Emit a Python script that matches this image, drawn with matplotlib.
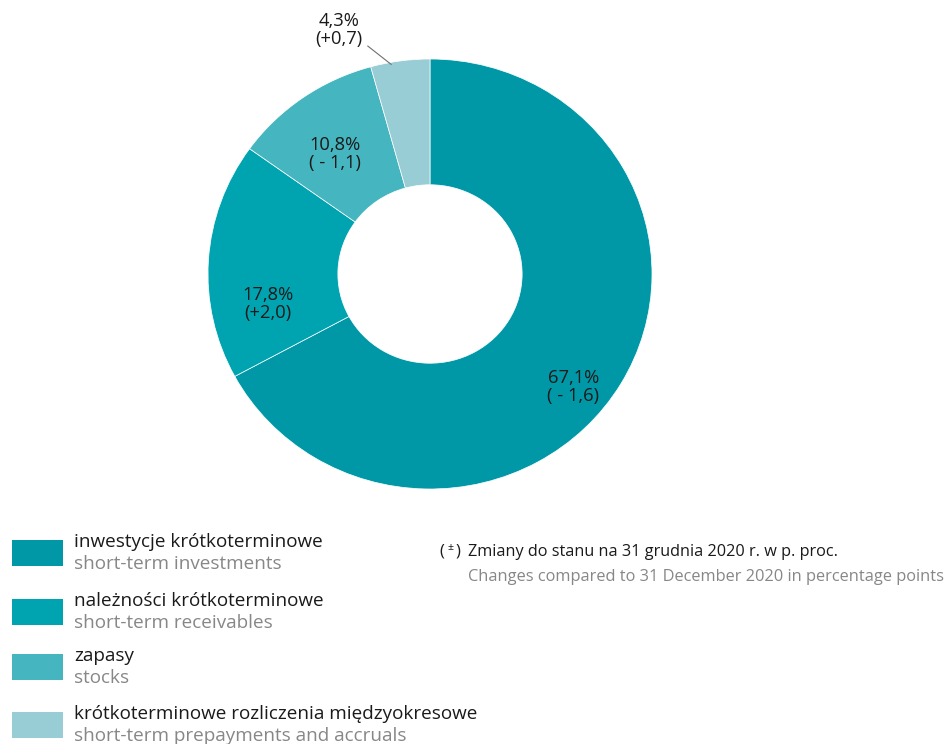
import matplotlib.pyplot as plt
from matplotlib.patches import Rectangle

plt.rcParams['font.family'] = ['Open Sans', 'DejaVu Sans']

# data
names_pl = ['inwestycje krótkoterminowe', 'należności krótkoterminowe', 'zapasy',
            'krótkoterminowe rozliczenia międzyokresowe']
names_en = ['short-term investments', 'short-term receivables', 'stocks',
            'short-term prepayments and accruals']
shares = [67.1, 17.8, 10.8, 4.3]
changes = ['( - 1,6)', '(+2,0)', '( - 1,1)', '(+0,7)']
colors = ['#0098a7', '#00a4b1', '#45b5bf', '#99cdd5']

# label placement (data coords of the pie axes, radius = 1)
label_pos = [(0.645, -0.525), (-0.73, -0.14), (-0.43, 0.56), (-0.41, 1.135)]

W, H = 949, 744
fig = plt.figure(figsize=(W / 100, H / 100), dpi=100)

# pie axes: center (430, 274) px, slightly wider than tall like the original
cx, cy, Rx, Ry = 430, 274, 222, 215
ax = fig.add_axes([(cx - Rx) / W, 1 - (cy + Ry) / H, 2 * Rx / W, 2 * Ry / H])
wedges, _ = ax.pie(shares, colors=colors, startangle=90, counterclock=False,
                   radius=1, wedgeprops=dict(width=0.585, edgecolor='white', linewidth=0.5))
ax.set_xlim(-1, 1)
ax.set_ylim(-1, 1)
ax.set_aspect('auto')
ax.axis('off')

for i, (x, y) in enumerate(label_pos):
    ax.text(x, y, f'{shares[i]:.1f}%'.replace('.', ',') + '\n' + changes[i],
            ha='center', va='center', fontsize=13.2, color='#1a1a1a',
            linespacing=1.0, clip_on=False)

# leader line for the small slice
ax.plot([-0.28, -0.175], [1.06, 0.975], color='#707070', lw=0.8, clip_on=False)

# overlay axes in pixel coordinates for legend and note
lax = fig.add_axes([0, 0, 1, 1])
lax.set_xlim(0, W)
lax.set_ylim(H, 0)
lax.axis('off')

sw_top = [540, 599, 654, 712]
for i in range(4):
    lax.add_patch(Rectangle((12, sw_top[i]), 51, 26, facecolor=colors[i], edgecolor='none'))
    lax.text(74, sw_top[i] + 2, names_pl[i], fontsize=13.6, color='#1a1a1a', va='center')
    lax.text(74, sw_top[i] + 24, names_en[i], fontsize=13.6, color='#878787', va='center')

lax.text(439, 552, '(', fontsize=12, color='#1a1a1a', va='center')
lax.text(450, 548, '±', fontsize=7.5, color='#1a1a1a', va='center', ha='center')
lax.text(456, 552, ')', fontsize=12, color='#1a1a1a', va='center')
lax.text(468, 552, 'Zmiany do stanu na 31 grudnia 2020 r. w p. proc.', fontsize=11.7,
         color='#1a1a1a', va='center')
lax.text(468, 577, 'Changes compared to 31 December 2020 in percentage points', fontsize=11.75,
         color='#878787', va='center')

fig.savefig('out.png', dpi=100)
